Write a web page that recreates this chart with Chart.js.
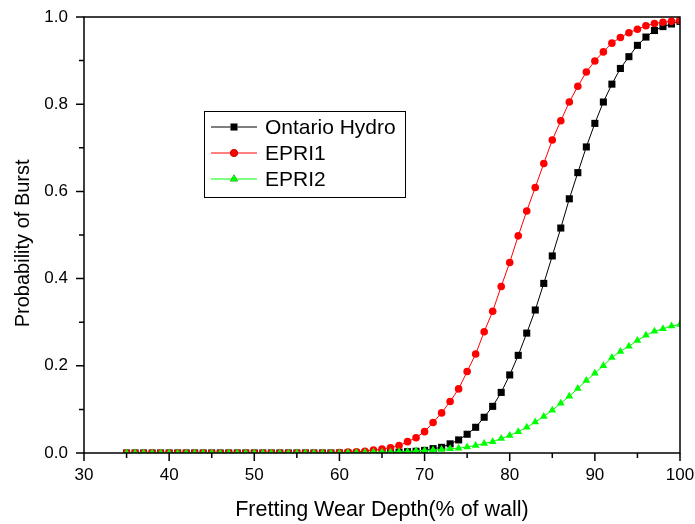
<!DOCTYPE html>
<html>
<head>
<meta charset="utf-8">
<script src="https://cdn.jsdelivr.net/npm/chart.js@4.4.0/dist/chart.umd.min.js"></script>
<style>
  html, body { margin: 0; padding: 0; background: #fff; }
  #wrap { width: 695px; height: 524px; }
</style>
</head>
<body>
<div id="wrap"><canvas id="burst"></canvas></div>
<script>
// wear depth (% of wall), one point per percent
const depth = [35, 36, 37, 38, 39, 40, 41, 42, 43, 44, 45, 46, 47, 48, 49, 50, 51, 52, 53, 54,
    55, 56, 57, 58, 59, 60, 61, 62, 63, 64, 65, 66, 67, 68, 69, 70, 71, 72, 73, 74,
    75, 76, 77, 78, 79, 80, 81, 82, 83, 84, 85, 86, 87, 88, 89, 90, 91, 92, 93, 94,
    95, 96, 97, 98, 99, 100];

const ontarioHydro = [0, 0, 0, 0, 0, 0, 0, 0, 0, 0, 0, 0, 0, 0, 0, 0, 0, 0, 0, 0,
    0, 0, 0, 0, 0, 0, 0, 0, 0, 0, 0.001, 0.001, 0.002, 0.003, 0.004, 0.006, 0.010, 0.013, 0.021, 0.030,
    0.043, 0.059, 0.082, 0.107, 0.139, 0.179, 0.224, 0.275, 0.328, 0.389, 0.452, 0.516, 0.583, 0.643, 0.702, 0.756, 0.805, 0.846, 0.882, 0.909,
    0.935, 0.954, 0.969, 0.978, 0.984, 0.990];

const epri1 = [0, 0, 0, 0, 0, 0, 0, 0, 0, 0, 0, 0, 0, 0, 0, 0, 0, 0, 0, 0,
    0, 0, 0, 0, 0, 0.001, 0.002, 0.003, 0.004, 0.007, 0.009, 0.012, 0.017, 0.026, 0.035, 0.049, 0.070, 0.092, 0.118, 0.147,
    0.187, 0.227, 0.278, 0.325, 0.382, 0.437, 0.498, 0.555, 0.609, 0.664, 0.718, 0.762, 0.805, 0.841, 0.874, 0.899, 0.920, 0.940, 0.953, 0.964,
    0.972, 0.980, 0.985, 0.988, 0.990, 0.992];

const epri2 = [0, 0, 0, 0, 0, 0, 0, 0, 0, 0, 0, 0, 0, 0, 0, 0, 0, 0, 0, 0,
    0, 0, 0, 0, 0, 0, 0.001, 0.001, 0.001, 0.002, 0.002, 0.002, 0.003, 0.003, 0.005, 0.006, 0.007, 0.008, 0.010, 0.011,
    0.014, 0.017, 0.022, 0.026, 0.033, 0.040, 0.049, 0.059, 0.071, 0.084, 0.098, 0.114, 0.130, 0.148, 0.166, 0.183, 0.200, 0.219, 0.233, 0.245,
    0.258, 0.270, 0.279, 0.285, 0.291, 0.295];

const seriesNames = ['Ontario Hydro', 'EPRI1', 'EPRI2'];

const FONT = 'Liberation Sans, Arial, sans-serif';

function toPoints(values) {
    return depth.map((d, i) => ({ x: d, y: values[i] }));
}

// frame round the plot + tick marks (major long, minor short), all outside
const framePlugin = {
    id: 'frame',
    afterDraw(chart) {
        const ctx = chart.ctx;
        const a = chart.chartArea;
        const xs = chart.scales.x;
        const ys = chart.scales.y;
        ctx.save();
        ctx.strokeStyle = '#000';
        ctx.lineWidth = 1.5;
        ctx.strokeRect(a.left, a.top, a.right - a.left, a.bottom - a.top);
        ctx.beginPath();
        xs.ticks.forEach(t => {
            const px = xs.getPixelForValue(t.value);
            const len = (t.value % 10 === 0) ? 8 : 5;
            ctx.moveTo(px, a.bottom);
            ctx.lineTo(px, a.bottom + len);
        });
        ys.ticks.forEach(t => {
            const py = ys.getPixelForValue(t.value);
            const major = Math.round(t.value * 10) % 2 === 0;
            const len = major ? 8 : 5;
            ctx.moveTo(a.left, py);
            ctx.lineTo(a.left - len, py);
        });
        ctx.stroke();
        ctx.restore();
    }
};

// legend box drawn by hand: line - marker - line, then label
const legendPlugin = {
    id: 'boxLegend',
    afterDraw(chart) {
        const ctx = chart.ctx;
        const left = 204, top = 111, w = 201, h = 86;
        ctx.save();
        ctx.fillStyle = '#fff';
        ctx.fillRect(left, top, w, h);
        ctx.strokeStyle = '#000';
        ctx.lineWidth = 1;
        ctx.strokeRect(left + 0.5, top + 0.5, w, h);
        chart.data.datasets.forEach((ds, i) => {
            const y = top + 16 + i * 26;
            ctx.strokeStyle = ds.borderColor;
            ctx.lineWidth = 1;
            ctx.beginPath();
            ctx.moveTo(211, y);
            ctx.lineTo(257, y);
            ctx.stroke();
            Chart.helpers.drawPoint(ctx, {
                pointStyle: ds.pointStyle,
                radius: ds.pointRadius,
                borderWidth: 0
            }, 234, y);
            ctx.fillStyle = ds.pointBackgroundColor;
            ctx.fill();
            ctx.fillStyle = '#000';
            ctx.font = '21px ' + FONT;
            ctx.textBaseline = 'middle';
            ctx.fillText(ds.label, 265, y + 1);
        });
        ctx.restore();
    }
};

const ctx = document.getElementById('burst').getContext('2d');
new Chart(ctx, {
    type: 'line',
    data: {
        datasets: [
            {
                label: seriesNames[0],
                data: toPoints(ontarioHydro),
                borderColor: '#000000',
                backgroundColor: '#000000',
                pointBackgroundColor: '#000000',
                pointStyle: 'rect',
                pointRadius: 5,
                order: 3
            },
            {
                label: seriesNames[1],
                data: toPoints(epri1),
                borderColor: '#ff0000',
                backgroundColor: '#ff0000',
                pointBackgroundColor: '#ff0000',
                pointStyle: 'circle',
                pointRadius: 3.8,
                order: 2
            },
            {
                label: seriesNames[2],
                data: toPoints(epri2),
                borderColor: '#00ff00',
                backgroundColor: '#00ff00',
                pointBackgroundColor: '#00ff00',
                pointStyle: 'triangle',
                pointRadius: 4.5,
                order: 1
            }
        ]
    },
    options: {
        responsive: true,
        maintainAspectRatio: false,
        animation: false,
        layout: { padding: { top: 17, right: 15, left: 0, bottom: 0 } },
        elements: {
            line: { borderWidth: 1, tension: 0 },
            point: { borderWidth: 0, hoverRadius: 5 }
        },
        plugins: {
            legend: { display: false },
            tooltip: { enabled: false }
        },
        scales: {
            x: {
                type: 'linear',
                min: 30,
                max: 100,
                afterFit(scale) {
                    scale.height = 71;
                    scale.paddingLeft = 0;
                    scale.paddingRight = 0;
                },
                grid: { display: false },
                border: { display: false },
                ticks: {
                    stepSize: 5,
                    padding: 4,
                    color: '#000',
                    font: { family: FONT, size: 17 },
                    maxRotation: 0,
                    autoSkip: false,
                    callback: v => (v % 10 === 0 ? String(v) : '')
                },
                title: {
                    display: true,
                    text: 'Fretting Wear Depth(% of wall)',
                    color: '#000',
                    font: { family: FONT, size: 21.5 },
                    padding: { top: 4, bottom: 1 }
                }
            },
            y: {
                min: 0,
                max: 1,
                afterFit(scale) {
                    scale.width = 84;
                    scale.paddingTop = 0;
                    scale.paddingBottom = 0;
                },
                grid: { display: false },
                border: { display: false },
                ticks: {
                    stepSize: 0.1,
                    padding: 8,
                    color: '#000',
                    font: { family: FONT, size: 17 },
                    autoSkip: false,
                    callback: v => (Math.round(v * 10) % 2 === 0 ? v.toFixed(1) : '')
                },
                title: {
                    display: true,
                    // trailing spaces push the text a little down, as in the original
                    text: 'Probability of Burst   ',
                    color: '#000',
                    font: { family: FONT, size: 20 },
                    padding: { top: 11, bottom: 0 }
                }
            }
        }
    },
    plugins: [framePlugin, legendPlugin]
});
</script>
</body>
</html>
